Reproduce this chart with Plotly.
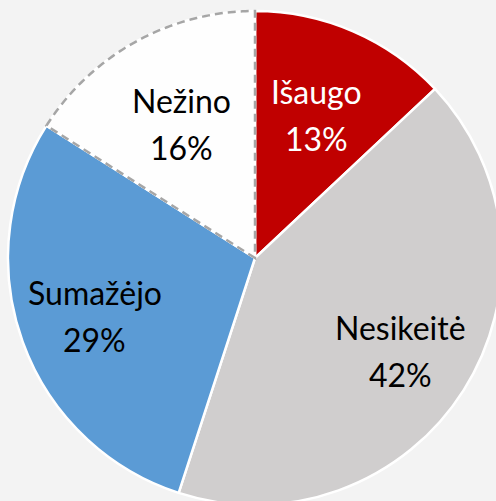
import math
import plotly.graph_objects as go

labels = ["Išaugo", "Nesikeitė", "Sumažėjo", "Nežino"]
values = [13, 42, 29, 16]
colors = ["#C00000", "#D0CECE", "#5B9BD5", "#FEFEFE"]
text_colors = ["#FFFFFF", "#000000", "#000000", "#000000"]
label_radius = [0.63, 0.70, 0.69, 0.62]

BG = "#F3F3F3"
W, H = 510, 515
CX, CY, R = 255, 258, 247  # pixel geometry of the pie inside the figure

fig = go.Figure(go.Pie(
    labels=labels, values=values, sort=False, direction="clockwise", rotation=0,
    marker=dict(colors=colors, line=dict(color="#FFFFFF", width=2.5)),
    textinfo="none", hoverinfo="skip", showlegend=False,
    domain=dict(x=[(CX - R) / W, (CX + R) / W], y=[(H - CY - R) / H, (H - CY + R) / H]),
))

total = sum(values)

def px(x, y):
    return x / W, (H - y) / H

annotations = []
cum = 0
slices = []
LINE_GAP = 23.5
for lab, v, tc, lr in zip(labels, values, text_colors, label_radius):
    a0 = cum / total * 2 * math.pi
    cum += v
    a1 = cum / total * 2 * math.pi
    slices.append((a0, a1))
    mid = (a0 + a1) / 2
    x = CX + lr * R * math.sin(mid)
    y = CY - lr * R * math.cos(mid)
    xp, yp = px(x, y)
    for txt, shift in ((lab, LINE_GAP), (f"{round(v / total * 100)}%", -LINE_GAP)):
        annotations.append(dict(
            x=xp, y=yp, xref="paper", yref="paper", showarrow=False,
            text=txt, yshift=shift,
            font=dict(family="Lato", size=32, color=tc),
            xanchor="center", yanchor="middle", align="center",
        ))

# dashed outline around the "Nežino" slice
a0, a1 = slices[3]
pts = [px(CX, CY)]
n = 80
for i in range(n + 1):
    a = a0 + (a1 - a0) * i / n
    pts.append(px(CX + R * math.sin(a), CY - R * math.cos(a)))
path = "M " + " L ".join(f"{x:.5f},{y:.5f}" for x, y in pts) + " Z"

fig.update_layout(
    width=W, height=H, autosize=False,
    margin=dict(l=0, r=0, t=0, b=0),
    paper_bgcolor=BG, plot_bgcolor=BG,
    annotations=annotations,
    shapes=[dict(type="path", path=path, xref="paper", yref="paper",
                 line=dict(color="#A6A6A6", width=2.5, dash="8px,5px"), layer="above")],
)

fig.write_html(
    "out.html",
    config={"displayModeBar": False, "staticPlot": True},
    post_script=("document.body.style.margin='0';"
                 "document.body.style.overflow='hidden';"
                 f"document.body.style.background='{BG}';"),
)
